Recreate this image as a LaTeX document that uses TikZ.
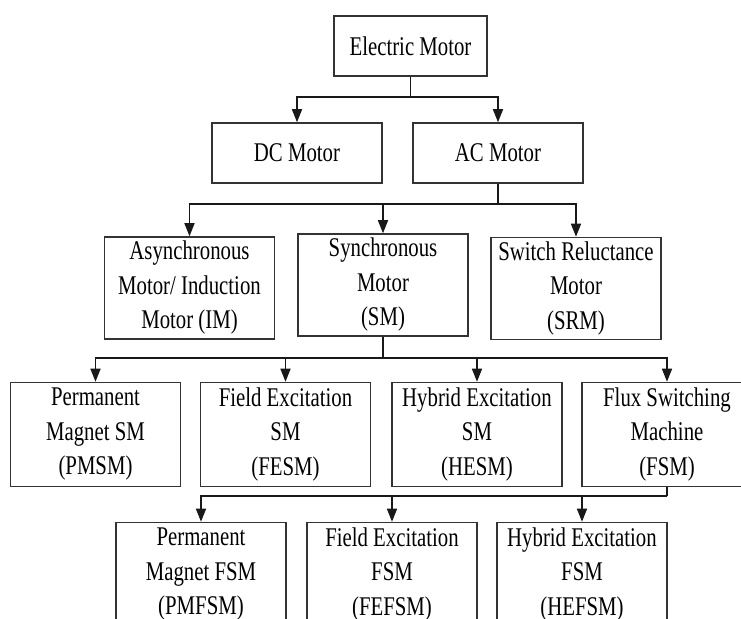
\documentclass[tikz,border=0pt]{standalone}
\usepackage{fontspec}
\setmainfont{Liberation Serif}[FakeStretch=0.77]
\usetikzlibrary{arrows.meta}

\tikzset{
  box/.style={draw=black!80, line width=0.75pt, rectangle, align=center,
    inner sep=1pt, minimum width=85pt, minimum height=30pt,
    font=\fontsize{13.5}{17.25}\selectfont},
  tallbox/.style={box, minimum height=52pt},
  arr/.style={draw=black!90, line width=0.75pt, -{Triangle[length=6.5pt,width=5pt]}},
  link/.style={draw=black!90, line width=0.75pt}
}

\begin{document}
\begin{tikzpicture}[x=0.5pt,y=-0.5pt]
            \useasboundingbox (0,0) rectangle (741,619);
            \fill[white] (0,0) rectangle (741,619);
            \clip (0,0) rectangle (741,619);

            % top
            \node[box, minimum width=76.5pt] (em) at (410.5,46) {Electric Motor};
            \node[box] (dc) at (297,153) {DC Motor};
            \node[box] (ac) at (498,153) {AC Motor};

            % ac motor types
            \node[tallbox, minimum height=51pt] (im) at (189.5,288) {Asynchronous\\Motor/ Induction\\Motor (IM)};
            \node[tallbox, minimum height=51pt] (sm) at (383,285) {Synchronous\\Motor\\(SM)};
            \node[tallbox, minimum height=51pt] (srm) at (576,288.5) {Switch Reluctance\\Motor\\(SRM)};

            % synchronous motor types
            \node[tallbox] (pmsm) at (95.5,434.5) {Permanent\\Magnet SM\\(PMSM)};
            \node[tallbox] (fesm) at (285.5,434.5) {Field Excitation\\SM\\(FESM)};
            \node[tallbox] (hesm) at (477,434.5) {Hybrid Excitation\\SM\\(HESM)};
            \node[tallbox] (fsm) at (667,434.5) {Flux Switching\\Machine\\(FSM)};

            % flux switching types
            \node[tallbox] (pmfsm) at (201,574.5) {Permanent\\Magnet FSM\\(PMFSM)};
            \node[tallbox] (fefsm) at (392,574.5) {Field Excitation\\FSM\\(FEFSM)};
            \node[tallbox] (hefsm) at (582,574.5) {Hybrid Excitation\\FSM\\(HEFSM)};

            % buses
            \coordinate (bus1) at (em.south |- 0,97);
            \coordinate (bus2) at (ac.south |- 0,204);
            \coordinate (bus3) at (sm.south |- 0,358);
            \coordinate (bus4) at (fsm.south |- 0,496);

            \draw[link] (em.south) -- (bus1);
            \draw[arr] (bus1) -| (dc.north);
            \draw[arr] (bus1) -| (ac.north);

            \draw[link] (ac.south) -- (bus2);
            \draw[arr] (bus2) -| (im.north);
            \draw[arr] (bus2) -| (sm.north);
            \draw[arr] (bus2) -| (srm.north);

            \draw[link] (sm.south) -- (bus3);
            \foreach \n in {pmsm,fesm,hesm,fsm}
                \draw[arr] (bus3) -| (\n.north);

            \draw[link] (fsm.south) -- (bus4);
            \foreach \n in {pmfsm,fefsm,hefsm}
                \draw[arr] (bus4) -| (\n.north);
\end{tikzpicture}
\end{document}
